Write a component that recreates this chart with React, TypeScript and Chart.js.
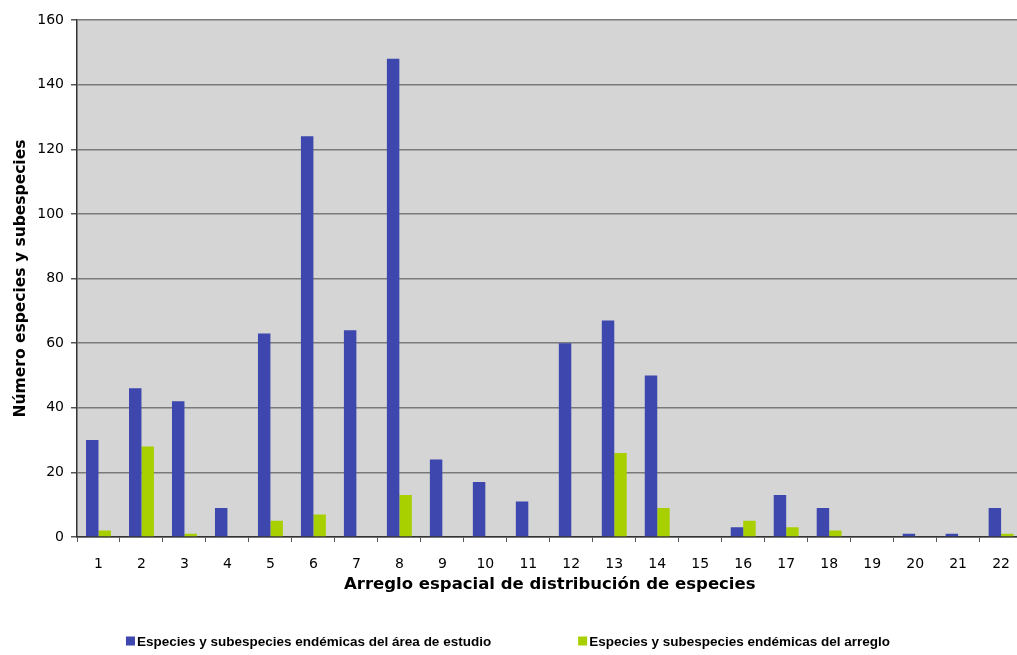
import React, { useEffect, useRef } from 'react';
import { Chart, registerables } from 'chart.js';

Chart.register(...registerables);

const categories = ['1', '2', '3', '4', '5', '6', '7', '8', '9', '10', '11', '12', '13', '14', '15', '16', '17', '18', '19', '20', '21', '22'];
const endemicStudyArea = [30, 46, 42, 9, 63, 124, 64, 148, 24, 17, 11, 60, 67, 50, 0, 3, 13, 9, 0, 1, 1, 9];
const endemicArrangement = [2, 28, 1, 0, 5, 7, 0, 13, 0, 0, 0, 0, 26, 9, 0, 5, 3, 2, 0, 0, 0, 1];
const seriesLabels = [
  'Especies y subespecies endémicas del área de estudio',
  'Especies y subespecies endémicas del arreglo',
];
const yMin = 0;
const yMax = 160;
const yStep = 20;
const xTitle = 'Arreglo espacial de distribución de especies';
const yTitle = 'Número especies y subespecies';

const BLUE = '#3d47ad';
const GREEN = '#a8d000';

const areaBackground = {
  id: 'areaBackground',
  beforeDraw(chart: any) {
    const { ctx, chartArea } = chart;
    ctx.save();
    ctx.fillStyle = '#d5d5d5';
    ctx.fillRect(chartArea.left, chartArea.top, chartArea.right - chartArea.left, chartArea.bottom - chartArea.top);
    ctx.restore();
  },
};

const bottomLegend = {
  id: 'bottomLegend',
  afterDraw(chart: any) {
    const ctx = chart.ctx;
    ctx.save();
    ctx.font = 'bold 13.5px "Liberation Sans", Arial, sans-serif';
    const items = chart.data.datasets.map((ds: any) => ({ text: ds.label, color: ds.backgroundColor }));
    const box = 9;
    const gap = 2;
    const itemGap = 87;
    const widths = items.map((it: any) => box + gap + ctx.measureText(it.text).width);
    const total = widths.reduce((a: number, b: number) => a + b, 0) + itemGap * (items.length - 1);
    let x = 508 - total / 2;
    const y = 641;
    items.forEach((it: any, i: number) => {
      ctx.fillStyle = it.color;
      ctx.fillRect(x, y - box / 2, box, box);
      ctx.fillStyle = '#000';
      ctx.textBaseline = 'middle';
      ctx.textAlign = 'left';
      ctx.fillText(it.text, x + box + gap, y + 1);
      x += widths[i] + itemGap;
    });
    ctx.restore();
  },
};

export default function App() {
  const ref = useRef<HTMLCanvasElement | null>(null);

  useEffect(() => {
    if (!ref.current) return;
    const chart = new Chart(ref.current, {
      type: 'bar',
      data: {
        labels: categories,
        datasets: [
          { label: seriesLabels[0], data: endemicStudyArea, backgroundColor: BLUE, borderWidth: 0 },
          { label: seriesLabels[1], data: endemicArrangement, backgroundColor: GREEN, borderWidth: 0 },
        ],
      },
      options: {
        responsive: false,
        animation: false,
        devicePixelRatio: 1,
        layout: { padding: { top: 20, left: 0, right: 0, bottom: 0 } },
        datasets: { bar: { categoryPercentage: 0.58, barPercentage: 1.0 } },
        plugins: {
          legend: { display: false },
          tooltip: { enabled: false },
        },
        scales: {
          x: {
            offset: true,
            grid: { display: true, drawOnChartArea: false, drawTicks: true, tickLength: 5, offset: true, color: '#555' },
            border: { color: '#333', width: 1.5 },
            ticks: {
              color: '#000',
              font: { family: '"DejaVu Sans", Verdana, sans-serif', size: 14 },
              padding: 14,
              maxRotation: 0,
              autoSkip: false,
            },
            title: {
              display: true,
              text: xTitle,
              color: '#000',
              font: { family: '"DejaVu Sans", Verdana, sans-serif', size: 16.5, weight: 'bold' },
              padding: { top: 0, bottom: 60 },
            },
            afterFit: (s: any) => {
              s.height = 118;
            },
          },
          y: {
            min: yMin,
            max: yMax,
            ticks: {
              stepSize: yStep,
              color: '#000',
              font: { family: '"DejaVu Sans", Verdana, sans-serif', size: 14 },
              padding: 7,
            },
            grid: { color: '#7a7a7a', lineWidth: 1.5, tickLength: 6, tickColor: '#555' },
            border: { color: '#333', width: 1.5 },
            title: {
              display: true,
              text: yTitle,
              color: '#000',
              font: { family: '"DejaVu Sans", Verdana, sans-serif', size: 15.5, weight: 'bold' },
              padding: { top: 12, bottom: 0 },
            },
            afterFit: (s: any) => {
              s.width = 77;
            },
          },
        },
      },
      plugins: [areaBackground, bottomLegend],
    } as any);
    return () => chart.destroy();
  }, []);

  return (
    <div style={{ position: 'fixed', left: 0, top: 0, width: 1017, height: 655, overflow: 'hidden', background: '#fff' }}>
      <canvas ref={ref} width={1024} height={655} style={{ display: 'block' }} />
    </div>
  );
}
